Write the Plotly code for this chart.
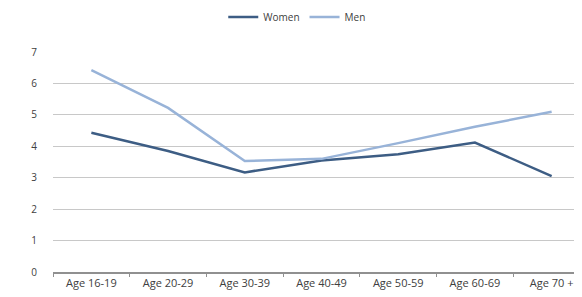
import plotly.graph_objects as go

categories = ["Age 16-19", "Age 20-29", "Age 30-39", "Age 40-49", "Age 50-59", "Age 60-69", "Age 70 +"]
women = [4.43, 3.85, 3.17, 3.55, 3.75, 4.12, 3.05]
men = [6.42, 5.22, 3.53, 3.6, 4.1, 4.62, 5.1]
y_ticks = [0, 1, 2, 3, 4, 5, 6, 7]

fig = go.Figure()
fig.add_trace(go.Scatter(x=categories, y=women, mode="lines", name="Women",
                         line=dict(color="#3d5d84", width=2.5)))
fig.add_trace(go.Scatter(x=categories, y=men, mode="lines", name="Men",
                         line=dict(color="#98b3d8", width=2.5)))

fig.update_layout(
    width=582, height=297,
    margin=dict(l=45, r=0, t=44, b=33, autoexpand=False),
    paper_bgcolor="white", plot_bgcolor="white",
    font=dict(family="Open Sans", size=10, color="#404040"),
    legend=dict(orientation="h", x=0.497, xref="container", xanchor="center",
                y=0.97, yanchor="middle", yref="container", font=dict(size=10)),
    showlegend=True,
)
fig.update_xaxes(type="category", showgrid=False, tickson="boundaries", ticks="outside",
                 ticklen=3, tickcolor="#909090", showline=True, linecolor="#909090",
                 linewidth=1.5, range=[-0.5, 6.5], tickfont=dict(size=11))
fig.update_yaxes(range=[0, 7], tickvals=y_ticks, showgrid=True, gridcolor="#c8c8c8",
                 gridwidth=1.2, zeroline=False, showline=False, ticklabelstandoff=15)

fig.write_html("out.html")
